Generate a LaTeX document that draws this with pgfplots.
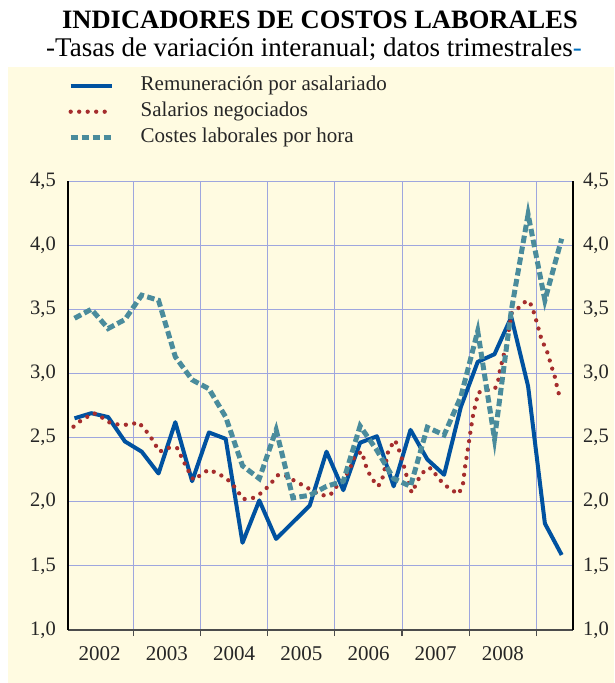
\documentclass[border=0pt]{standalone}
\usepackage{fontspec}
\setmainfont{Liberation Serif}
\usepackage{pgfplots}
\pgfplotsset{compat=1.18}
\definecolor{cream}{RGB}{255,251,225}
\definecolor{bluel}{RGB}{0,82,160}
\definecolor{redl}{RGB}{165,45,45}
\definecolor{teall}{RGB}{74,140,156}
\definecolor{gridc}{RGB}{158,166,222}
\definecolor{subblue}{RGB}{0,112,192}
\begin{document}
\begin{tikzpicture}
\path[use as bounding box] (-68pt,-53pt) rectangle (546pt,630pt);
\fill[cream] (-60pt,-53pt) rectangle (546pt,563pt);
\node[anchor=base, font=\fontsize{26.5}{30}\selectfont\bfseries] at (252pt,601pt) {INDICADORES DE COSTOS LABORALES};
\node[anchor=base, font=\fontsize{27}{30}\selectfont] at (246pt,573pt) {-Tasas de variación interanual; datos trimestrales\textcolor{subblue}{-}};
\begin{axis}[
  scale only axis, width=505pt, height=449pt,
  xmin=2002.028, xmax=2009.543, ymin=1, ymax=4.5,
  axis x line*=bottom, axis y line*=left,
  x axis line style={-, draw=black!70, line width=1.2pt},
  y axis line style={-, draw=black, line width=2pt},
  xtick={2003,...,2009}, xticklabels={},
  tick align=outside,
  xtick style={draw=black!70, line width=1.2pt},
  major tick length=6pt,
  extra x ticks={2002.5,2003.5,2004.5,2005.5,2006.5,2007.5,2008.5},
  extra x tick labels={2002,2003,2004,2005,2006,2007,2008},
  extra x tick style={grid=none, major tick length=0pt, xticklabel style={font=\fontsize{21}{24}\selectfont, text=black!85, inner sep=0pt, yshift=-16pt}},
  ytick={1,1.5,2,2.5,3,3.5,4,4.5},
  yticklabels={{1,0},{1,5},{2,0},{2,5},{3,0},{3,5},{4,0},{4,5}},
  ytick style={draw=none},
  yticklabel style={font=\fontsize{20.5}{23}\selectfont, text=black!85, inner sep=0pt, xshift=-6pt},
  grid=major, major grid style={draw=gridc, line width=0.9pt},
  no markers,
  legend style={at={(axis description cs:0,1.2316)}, anchor=north west, draw=none, fill=none, inner sep=0pt,
    font=\fontsize{21}{23}\selectfont, text=black!85, row sep=9pt,
    nodes={inner sep=0pt, text height=13pt, text depth=4pt}},
  legend cell align=left,
  legend image code/.code={\draw[#1] (0pt,0pt) -- (41pt,0pt); \path[draw=none,fill=none] (0pt,0pt) -- (70pt,0pt);},
]
\addplot[draw=bluel, line width=4pt, line join=round] coordinates {
(2002.125,2.65) (2002.375,2.69) (2002.625,2.66) (2002.875,2.47)
(2003.125,2.39) (2003.375,2.22) (2003.625,2.62) (2003.875,2.16)
(2004.125,2.54) (2004.375,2.49) (2004.625,1.68) (2004.875,2.01)
(2005.125,1.71) (2005.375,1.84) (2005.625,1.97) (2005.875,2.39)
(2006.125,2.09) (2006.375,2.46) (2006.625,2.51) (2006.875,2.12)
(2007.125,2.56) (2007.375,2.33) (2007.625,2.21) (2007.875,2.74)
(2008.125,3.09) (2008.375,3.15) (2008.625,3.44) (2008.875,2.90)
(2009.125,1.83) (2009.375,1.585)
};
\addlegendentry{Remuneración por asalariado}
\addplot[draw=redl, line width=4.3pt, line cap=round, dash pattern=on 0pt off 8.5pt] coordinates {
(2002.110,2.585) (2002.237,2.64) (2002.415,2.69) (2002.557,2.65) (2002.668,2.61) (2002.802,2.60) (2002.951,2.60)
(2003.077,2.62) (2003.241,2.52) (2003.390,2.39) (2003.524,2.42) (2003.650,2.42) (2003.725,2.34) (2003.799,2.26) (2003.896,2.17)
(2004.007,2.21) (2004.119,2.25) (2004.260,2.22) (2004.390,2.18) (2004.499,2.12) (2004.637,2.02) (2004.786,2.03) (2004.911,2.07)
(2005.009,2.12) (2005.158,2.21) (2005.287,2.20) (2005.406,2.16) (2005.555,2.12) (2005.679,2.08) (2005.804,2.05) (2005.927,2.05)
(2006.027,2.12) (2006.125,2.17) (2006.225,2.26) (2006.299,2.36) (2006.399,2.39) (2006.473,2.26) (2006.548,2.18) (2006.646,2.12)
(2006.720,2.20) (2006.795,2.40) (2006.894,2.48) (2006.943,2.42) (2006.994,2.34)
(2007.068,2.20) (2007.143,2.07) (2007.192,2.12) (2007.266,2.20) (2007.366,2.26) (2007.440,2.26) (2007.515,2.20) (2007.613,2.14)
(2007.713,2.10) (2007.836,2.06) (2007.902,2.12) (2007.936,2.27) (2007.985,2.43)
(2008.021,2.56) (2008.060,2.69) (2008.100,2.77) (2008.129,2.85) (2008.263,2.87) (2008.382,2.88) (2008.432,2.95) (2008.457,3.03)
(2008.506,3.13) (2008.557,3.23) (2008.580,3.31) (2008.631,3.47) (2008.755,3.52) (2008.854,3.57) (2008.929,3.53)
(2009.003,3.40) (2009.077,3.26) (2009.152,3.18) (2009.226,3.05) (2009.275,2.97) (2009.324,2.85) (2009.350,2.83)
};
\addlegendentry{Salarios negociados}
\addplot[draw=teall, line width=5pt, dash pattern=on 7.5pt off 3.5pt] coordinates {
(2002.125,3.43) (2002.375,3.50) (2002.625,3.35) (2002.875,3.42)
(2003.125,3.61) (2003.375,3.57) (2003.625,3.13) (2003.875,2.95)
(2004.125,2.88) (2004.375,2.66) (2004.625,2.28) (2004.875,2.18)
(2005.125,2.56) (2005.375,2.03) (2005.625,2.05) (2005.875,2.12)
(2006.125,2.16) (2006.375,2.59) (2006.625,2.40) (2006.875,2.18)
(2007.125,2.12) (2007.375,2.58) (2007.625,2.52) (2007.875,2.82)
(2008.125,3.33) (2008.375,2.49) (2008.625,3.49) (2008.875,4.24)
(2009.125,3.57) (2009.375,4.05)
};
\addlegendentry{Costes laborales por hora}
\end{axis}
\begin{axis}[
  scale only axis, width=505pt, height=449pt,
  xmin=2002.028, xmax=2009.543, ymin=1, ymax=4.5,
  axis y line*=right, axis x line=none,
  y axis line style={-, draw=black, line width=1.3pt},
  ytick={1,1.5,2,2.5,3,3.5,4,4.5},
  yticklabels={{1,0},{1,5},{2,0},{2,5},{3,0},{3,5},{4,0},{4,5}},
  ytick style={draw=none},
  yticklabel style={font=\fontsize{20.5}{23}\selectfont, text=black!85, inner sep=0pt, xshift=10pt},
]
\end{axis}
\end{tikzpicture}
\end{document}
